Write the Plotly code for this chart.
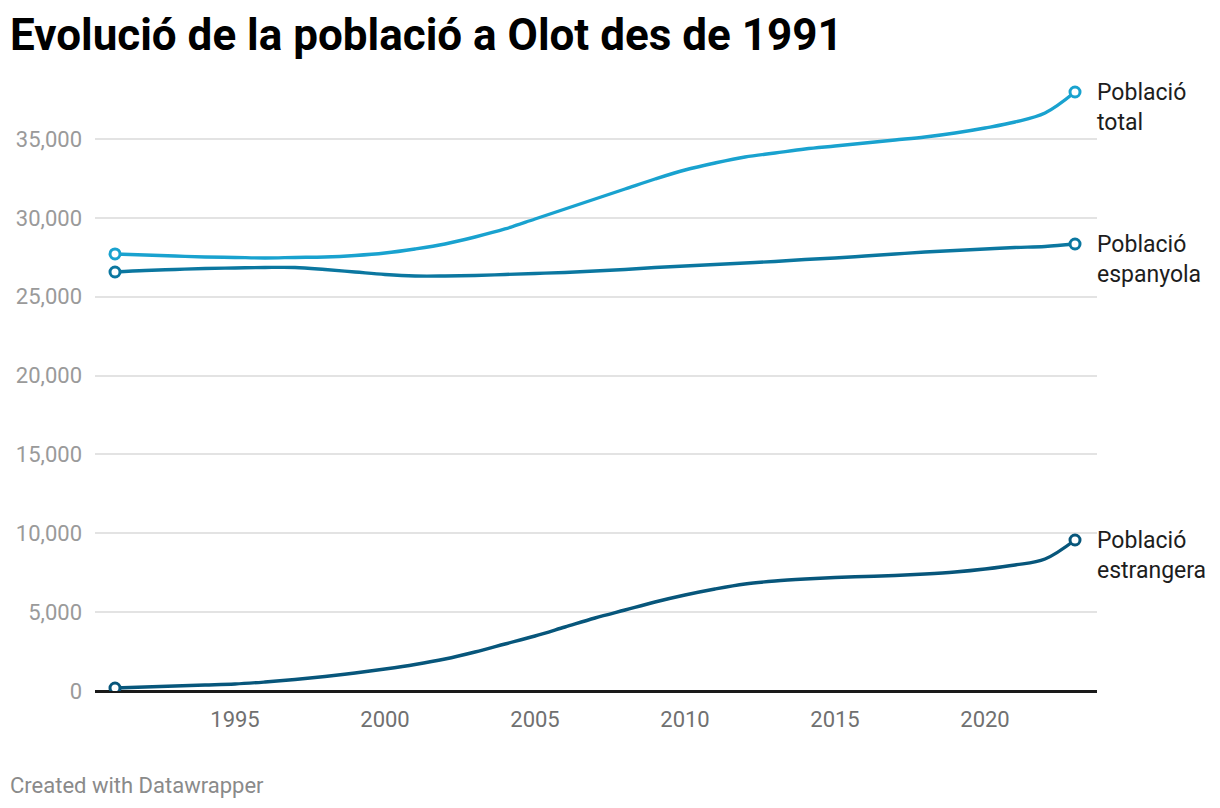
import plotly.graph_objects as go

years = list(range(1991, 2024))

total = [27710, 27646, 27583, 27520, 27490, 27456, 27490, 27520, 27615, 27773,
         28027, 28343, 28787, 29294, 29928, 30562, 31196, 31830, 32464, 33035,
         33479, 33860, 34113, 34367, 34557, 34748, 34938, 35128, 35382, 35699,
         36079, 36650, 37981]

espanyola = [26568, 26663, 26726, 26790, 26821, 26853, 26853, 26726, 26568, 26409,
             26314, 26314, 26346, 26409, 26473, 26536, 26631, 26726, 26853, 26948,
             27043, 27138, 27233, 27360, 27455, 27582, 27709, 27836, 27931, 28027,
             28122, 28185, 28343]

estrangera = [190, 254, 317, 380, 444, 571, 729, 919, 1141, 1395,
              1680, 2029, 2473, 2980, 3487, 4058, 4629, 5136, 5643, 6087,
              6468, 6785, 6975, 7102, 7197, 7260, 7324, 7419, 7546, 7736,
              7990, 8370, 9575]

series_names = ["Població<br>total", "Població<br>espanyola", "Població<br>estrangera"]
series_values = [total, espanyola, estrangera]
series_colors = ["#19a2cf", "#0b77a0", "#07567b"]

x_tickvals = [1995, 2000, 2005, 2010, 2015, 2020]
y_tickvals = [0, 5000, 10000, 15000, 20000, 25000, 30000, 35000]

FONT = "Roboto"

fig = go.Figure()

for name, vals, col in zip(series_names, series_values, series_colors):
    fig.add_trace(go.Scatter(
        x=years, y=vals, mode="lines",
        line=dict(color=col, width=3.4, shape="spline", smoothing=1.0),
        hoverinfo="skip", showlegend=False,
    ))
    fig.add_trace(go.Scatter(
        x=[years[0], years[-1]], y=[vals[0], vals[-1]], mode="markers",
        marker=dict(size=10, color="white", line=dict(color=col, width=3)),
        hoverinfo="skip", showlegend=False,
    ))
    fig.add_annotation(
        x=years[-1], y=vals[-1], xref="x", yref="y",
        text=name, showarrow=False, xanchor="left", yanchor="top",
        align="left", xshift=20, yshift=15,
        font=dict(family=FONT, size=23, color="#1d1d1d"),
    )

fig.add_annotation(
    x=-0.087, y=-0.154, xref="paper", yref="paper",
    text="Created with Datawrapper", showarrow=False,
    xanchor="left", yanchor="middle",
    font=dict(family=FONT, size=22, color="#8a8a8a"),
)

fig.update_layout(
    width=1220, height=808,
    margin=dict(l=95, r=123, t=80, b=117),
    paper_bgcolor="white", plot_bgcolor="white",
    title=dict(
        text="Evolució de la població a Olot des de 1991",
        x=10 / 1220, xref="container", xanchor="left",
        y=1 - 19 / 808, yref="container", yanchor="top",
        font=dict(family=FONT, size=44, color="#000000", weight=700),
    ),
    hovermode=False,
    showlegend=False,
    xaxis=dict(
        range=[1990.333, 2023.733],
        tickvals=x_tickvals,
        ticktext=[str(v) for v in x_tickvals],
        showgrid=False, zeroline=False, showline=False,
        ticks="", ticklabelstandoff=13,
        tickfont=dict(family=FONT, size=22, color="#707070"),
    ),
    yaxis=dict(
        range=[0, 38741],
        tickvals=y_tickvals,
        tickformat=",d",
        showgrid=True, gridcolor="#e3e3e3", gridwidth=2,
        zeroline=True, zerolinecolor="#1a1a1a", zerolinewidth=2.5,
        showline=False, ticks="", ticklabelstandoff=12,
        tickfont=dict(family=FONT, size=22, color="#9a9a9a"),
    ),
)

fig.write_html("out.html", config={"displayModeBar": False},
               post_script="document.body.style.margin='0px';")
